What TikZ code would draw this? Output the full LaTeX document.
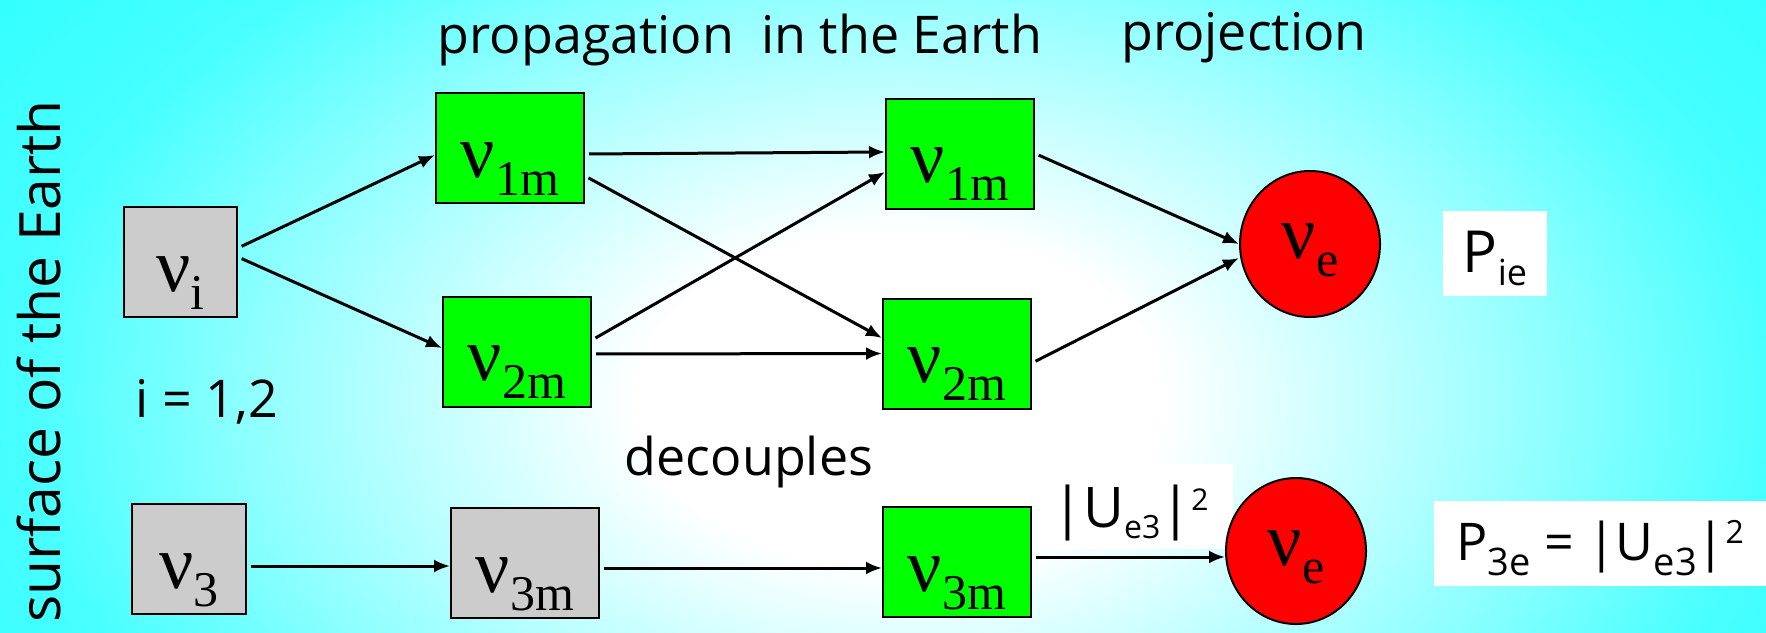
\documentclass[tikz,border=0pt]{standalone}
\usepackage{fontspec}
\setmainfont{Open Sans}
\newfontfamily\nufont{Liberation Serif}
\usetikzlibrary{arrows.meta,shapes.geometric}
\definecolor{nugreen}{HTML}{00FF00}
\definecolor{nugray}{HTML}{CCCCCC}
\definecolor{nured}{HTML}{FF0000}
\definecolor{bgcyan}{HTML}{33FFFF}
\pgfdeclareradialshading{bgglow}{\pgfpoint{0bp}{0bp}}{color(0bp)=(white); color(6bp)=(white); color(15bp)=(cyan!45); color(20bp)=(cyan!72); color(25bp)=(cyan!80); color(50bp)=(cyan!80)}
\newcommand{\nusym}[1]{{\nufont\fontsize{76}{76}\selectfont ν\raisebox{-18pt}{\fontsize{50}{50}\selectfont #1}}}
\newcommand{\lowered}[3]{\raisebox{-#1pt}{\fontsize{#2}{#2}\selectfont #3}}
\newcommand{\raised}[3]{\raisebox{#1pt}{\fontsize{#2}{#2}\selectfont #3}}

\begin{document}
\begin{tikzpicture}[x=1pt,y=-1pt,
        every node/.style={font=\fontsize{52}{60}\selectfont},
        mbox/.style={
          draw=black, line width=2pt, fill=nugreen,
          minimum width=148pt, minimum height=110pt, inner sep=0pt,
          text height=76pt, text depth=18pt,
        },
        gbox/.style={mbox, fill=nugray},
        flav/.style={
          ellipse, draw=black, line width=2pt, fill=nured,
          minimum width=140pt, minimum height=146pt, inner sep=0pt,
          text height=46pt, text depth=18pt,
        },
        wbox/.style={fill=white, inner sep=0pt, minimum height=85pt},
        arr/.style={-{Latex[length=16pt,width=13pt]}, draw=black, line width=3pt, shorten <=4pt},
        lbl/.style={anchor=base, inner sep=0pt},
      ]
      \fill[bgcyan] (0,0) rectangle (1766,632);
      \begin{scope}
        \clip (0,0) rectangle (1766,632);
        \shade[shading=bgglow] (900,400) ellipse [x radius=1100pt, y radius=700pt];
      \end{scope}
      \useasboundingbox (0,0) rectangle (1766,632);

      \node[lbl] (title) at (740,53) {propagation\ \ in the Earth};
      \node[lbl] (proj) at (1244,50) {projection};
      \node[lbl, rotate=90, anchor=base east, font=\fontsize{57}{62}\selectfont] (surf) at (60,100) {surface of the Earth};
      \node[lbl] (irange) at (207,417) {i = 1,2};
      \node[lbl] (decoup) at (749,475) {decouples};

      \node[wbox, minimum width=104pt, text height=50pt, text depth=13pt] (pie) at (1495,253.5)
        {\fontsize{58}{58}\selectfont P\lowered{13}{36}{ie}};
      \node[wbox, minimum width=205pt, text height=56pt, text depth=15pt] (ue3) at (1130.5,506.5)
        {\fontsize{56}{56}\selectfont |U\lowered{11}{32}{e3}|\raised{17}{30}{2}};
      \node[wbox, minimum width=332pt, text height=48pt, text depth=15pt] (p3e) at (1600,543.5)
        {P\lowered{15}{38}{3e} = |U\lowered{15}{38}{e3}|\raised{17}{32}{2}};

      \node[gbox, minimum width=113pt] (vi) at (180.5,262) {\nusym{i}};
      \node[mbox] (a1) at (510,148) {\nusym{1m}};
      \node[mbox] (a2) at (517,351.5) {\nusym{2m}};
      \node[mbox] (b1) at (960,153.5) {\nusym{1m}};
      \node[mbox] (b2) at (957,353.5) {\nusym{2m}};
      \node[flav] (ve1) at (1310,244) {\nusym{e}};
      \node[gbox, minimum width=114pt] (c1) at (189,559) {\nusym{3}};
      \node[gbox] (c2) at (525,563) {\nusym{3m}};
      \node[mbox] (c3) at (957,562) {\nusym{3m}};
      \node[flav] (ve2) at (1296,551) {\nusym{e}};

      \draw[arr] ([yshift=14pt]vi.east) -- ([yshift=-7pt]a1.west);
      \draw[arr] ([yshift=5pt]vi.east) -- ([yshift=3.5pt]a2.west);
      \draw[arr] ([yshift=-6pt]a1.east) -- ([yshift=1.5pt]b1.west);
      \draw[arr] ([yshift=-28pt]a1.east) -- ([yshift=15.5pt]b2.west);
      \draw[arr] ([yshift=11.5pt]a2.east) -- ([yshift=-18.5pt]b1.west);
      \draw[arr] ([yshift=-2.5pt]a2.east) -- (b2.west);
      \draw[arr] (b1.east) -- (ve1.west);
      \draw[arr] ([yshift=-9.5pt]b2.east) -- ([yshift=-14pt]ve1.west);
      \draw[arr] ([yshift=-7pt]c1.east) -- ([yshift=-3pt]c2.west);
      \draw[arr] ([yshift=-5pt]c2.east) -- ([yshift=-6pt]c3.west);
      \draw[arr] ([yshift=5pt]c3.east) -- ([yshift=-6pt]ve2.west);
    \end{tikzpicture}
\end{document}
